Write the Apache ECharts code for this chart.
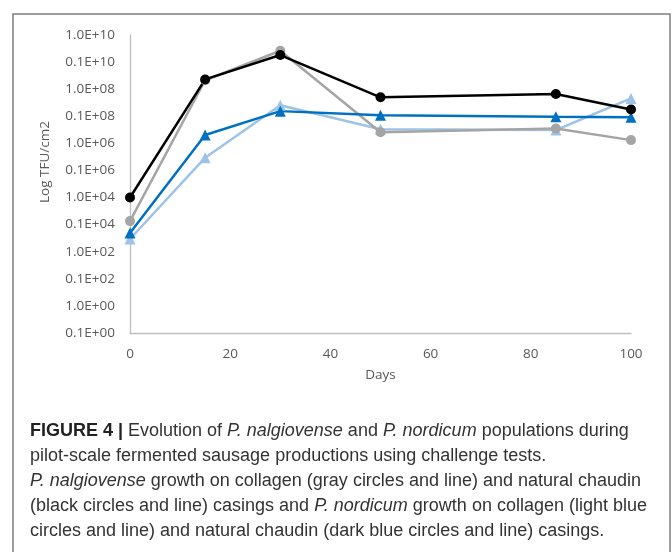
<!DOCTYPE html>
<html>
<head>
<meta charset="utf-8">
<script src="https://cdn.jsdelivr.net/npm/echarts@6/dist/echarts.min.js"></script>
<style>
html,body{margin:0;padding:0;background:#fff;}
#chart{width:672px;height:552px;}
</style>
</head>
<body>
<div id="chart"></div>
<script>
// Days sampled
var days = [0, 15, 30, 50, 85, 100];
// log10 TFU/cm2 values
var nalgCollagen = [3.13, 8.33, 9.42, 6.41, 6.55, 6.12];   // gray circles
var nalgChaudin  = [4.00, 8.36, 9.26, 7.70, 7.82, 7.25];   // black circles
var nordCollagen = [2.47, 5.47, 7.41, 6.52, 6.49, 7.66];   // light blue triangles
var nordChaudin  = [2.69, 6.31, 7.19, 7.04, 6.98, 6.96];   // dark blue triangles
// y tick labels, from log value -1 up to 10
var yTickLabels = ['0.1E+00','1.0E+00','0.1E+02','1.0E+02','0.1E+04','1.0E+04','0.1E+06','1.0E+06','0.1E+08','1.0E+08','0.1E+10','1.0E+10'];
var yMin = -1, yMax = 10;
var xTicks = [0, 20, 40, 60, 80, 100];

var captionLines = [
  '{b|FIGURE 4 |} Evolution of {i|P. nalgiovense} and {i|P. nordicum} populations during',
  'pilot-scale fermented sausage productions using challenge tests.',
  '{i|P. nalgiovense} growth on collagen (gray circles and line) and natural chaudin',
  '(black circles and line) casings and {i|P. nordicum} growth on collagen (light blue',
  'circles and line) and natural chaudin (dark blue circles and line) casings.'
];

function pairs(ys){ return days.map(function(d,i){ return [d, ys[i]]; }); }

var chart = echarts.init(document.getElementById('chart'), null, {renderer:'canvas'});
var axisFont = 'Open Sans, Liberation Sans, sans-serif';
var capFont = 'Liberation Sans, Arial, sans-serif';
var capSize = 18;

var captionGraphics = captionLines.map(function(t, i){
  return {
    type:'text', left:30, top: 422 + i*25, z:10,
    style:{
      text:t, fill:'#333', font:capSize + 'px ' + capFont,
      rich:{
        b:{fontWeight:'bold', fontSize:capSize, fontFamily:capFont, fill:'#222'},
        i:{fontStyle:'italic', fontSize:capSize, fontFamily:capFont, fill:'#333'}
      }
    }
  };
});

function mkSeries(name, data, color, symbol, size){
  return {
    name:name, type:'line', data:pairs(data),
    symbol:symbol, symbolSize:size, showSymbol:true,
    lineStyle:{color:color, width:2.5},
    itemStyle:{color:color},
    emphasis:{disabled:true}, animation:false
  };
}

chart.setOption({
  animation:false,
  grid:{left:130, right:41, top:35, bottom:219, containLabel:false},
  xAxis:{
    type:'value', min:0, max:100, interval:20,
    axisLine:{show:true, onZero:false, lineStyle:{color:'#bfbfbf', width:1.3}},
    axisTick:{show:false},
    splitLine:{show:false},
    axisLabel:{color:'#595959', fontSize:13.5, fontFamily:axisFont, margin:14},
    name:'Days', nameLocation:'middle', nameGap:35,
    nameTextStyle:{color:'#595959', fontSize:13.5, fontFamily:axisFont}
  },
  yAxis:{
    type:'value', min:yMin, max:yMax, interval:1,
    axisLine:{show:true, onZero:false, lineStyle:{color:'#bfbfbf', width:1.3}},
    axisTick:{show:false},
    splitLine:{show:false},
    axisLabel:{color:'#595959', fontSize:13.5, fontFamily:axisFont, margin:15,
      formatter:function(v){ var k = Math.round(v - yMin); return yTickLabels[k] || ''; }}
  },
  graphic:[
    {type:'rect', shape:{x:13, y:14, width:657, height:560}, style:{fill:'none', stroke:'#7f7f7f', lineWidth:1.5}, z:0},
    {type:'text', x:45, y:162, rotation:Math.PI/2, z:10,
      style:{text:'Log TFU/cm2', fill:'#595959', font:'13.5px ' + axisFont, textAlign:'center', textVerticalAlign:'middle'}}
  ].concat(captionGraphics),
  series:[
    mkSeries('P. nordicum collagen', nordCollagen, '#9dc3e6', 'triangle', 11),
    mkSeries('P. nalgiovense collagen', nalgCollagen, '#a5a5a5', 'circle', 10),
    mkSeries('P. nordicum chaudin', nordChaudin, '#0070c0', 'triangle', 11),
    mkSeries('P. nalgiovense chaudin', nalgChaudin, '#000000', 'circle', 10)
  ]
});
</script>
</body>
</html>
